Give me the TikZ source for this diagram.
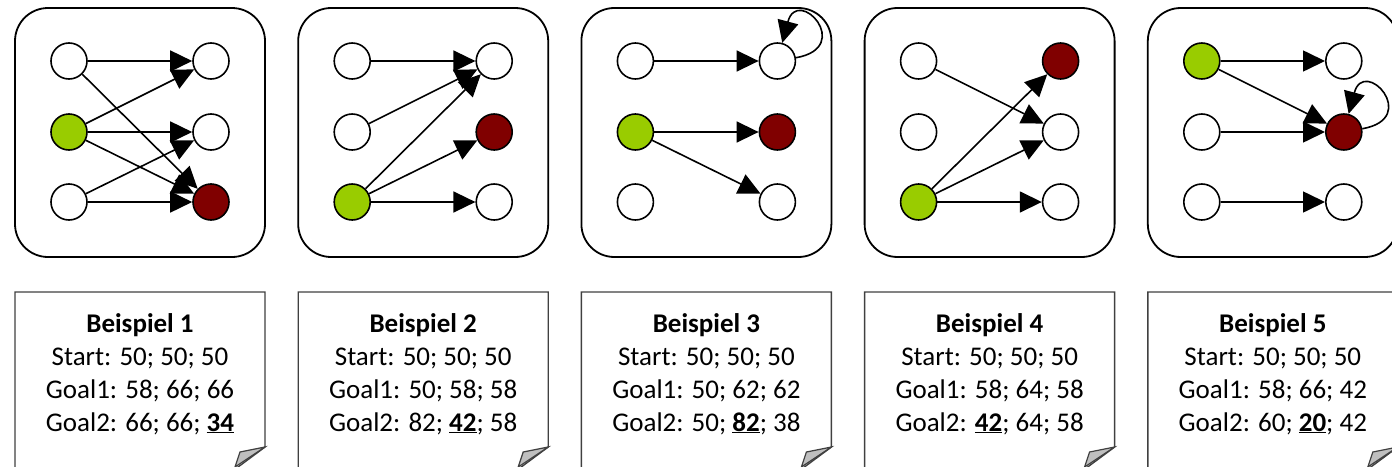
\documentclass[tikz,border=0pt]{standalone}
\usepackage{fontspec}
\setmainfont{Carlito}
\usetikzlibrary{arrows.meta,positioning}
\usepackage{xcolor}

\definecolor{startgreen}{RGB}{153,204,0}
\definecolor{goalred}{RGB}{128,0,0}

\newcommand{\bestval}[1]{\underline{\textbf{#1}}}

\tikzset{
  state/.style={circle,draw,line width=1.6pt,fill=white,minimum size=36pt,inner sep=0pt},
  startstate/.style={fill=startgreen},
  goalstate/.style={fill=goalred},
  arr/.style={line width=1.6pt,-{Triangle[length=22pt,width=21pt]}},
  panelbox/.style={draw,line width=1.8pt,rounded corners=33pt},
  notepaper/.style={draw=black!75,line width=1.4pt,fill=white},
  notefold/.style={draw=black!75,line width=1.2pt,fill=black!25},
  notetext/.style={align=center,font=\fontsize{27}{32.7}\selectfont,anchor=base},
  % start and goal of every example
  p1-a2/.style=startstate, p1-b3/.style=goalstate,
  p2-a3/.style=startstate, p2-b2/.style=goalstate,
  p3-a2/.style=startstate, p3-b2/.style=goalstate,
  p4-a3/.style=startstate, p4-b1/.style=goalstate,
  p5-a1/.style=startstate, p5-b2/.style=goalstate,
}

\begin{document}
\begin{tikzpicture}[x=1pt,y=1pt]
\useasboundingbox (0,0) rectangle (1392,-466);

% boxes, states and notes
\foreach \i/\ga/\gb in {
  1/{Goal1: 58; 66; 66}/{Goal2: 66; 66; \bestval{34}},
  2/{Goal1: 50; 58; 58}/{Goal2: 82; \bestval{42}; 58},
  3/{Goal1: 50; 62; 62}/{Goal2: 50; \bestval{82}; 38},
  4/{Goal1: 58; 64; 58}/{Goal2: \bestval{42}; 64; 58},
  5/{Goal1: 58; 66; 42}/{Goal2: 60; \bestval{20}; 42}}{
  \pgfmathsetmacro\c{140+283.2*(\i-1)}
  \draw[panelbox] (\c-125,-8) rectangle (\c+125,-257);
  \foreach \r/\y in {1/61,2/132,3/202}{
    \node[state,p\i-a\r/.try] (p\i-a\r) at (\c-71,-\y) {};
    \node[state,p\i-b\r/.try] (p\i-b\r) at (\c+71,-\y) {};
  }
  \draw[notepaper] (\c-125,-475) -- (\c-125,-292) -- (\c+125,-292) -- (\c+125,-447) -- (\c+94,-470);
  \filldraw[notefold] (\c+125,-447) -- (\c+100,-452) -- (\c+95,-467) -- cycle;
  \node[notetext] (n\i) at (\c,-431) {\textbf{Beispiel \i}\\Start: 50; 50; 50\\\ga\\\gb};
}

% transitions
\foreach \s/\t in {p1-a1/p1-b1, p1-a1/p1-b3, p1-a2/p1-b1, p1-a2/p1-b2, p1-a2/p1-b3,
  p1-a3/p1-b2, p1-a3/p1-b3,
  p2-a1/p2-b1, p2-a2/p2-b1, p2-a3/p2-b1, p2-a3/p2-b2, p2-a3/p2-b3,
  p3-a1/p3-b1, p3-a2/p3-b2, p3-a2/p3-b3,
  p4-a1/p4-b2, p4-a3/p4-b1, p4-a3/p4-b2, p4-a3/p4-b3,
  p5-a1/p5-b1, p5-a1/p5-b2, p5-a2/p5-b2, p5-a3/p5-b3}
  \draw[arr] (\s) -- (\t);

\draw[arr] (p3-b1) to[out=10,in=75,distance=60pt] (p3-b1);
\draw[arr] (p5-b2) to[out=10,in=75,distance=60pt] (p5-b2);

\end{tikzpicture}
\end{document}
